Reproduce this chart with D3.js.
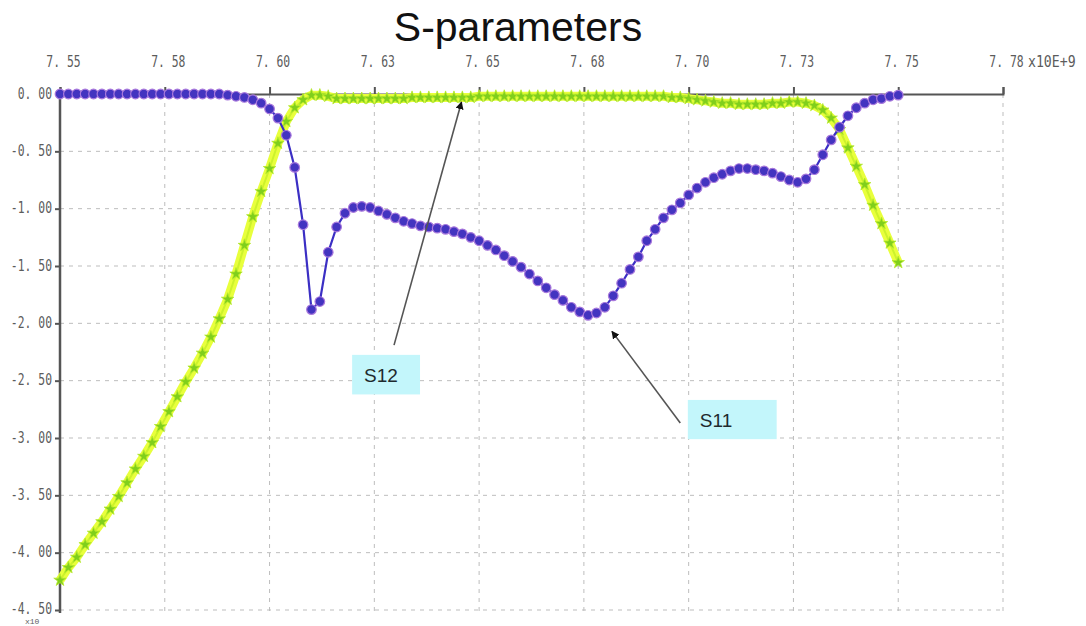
<!DOCTYPE html>
<html>
<head>
<meta charset="utf-8">
<script src="https://cdn.jsdelivr.net/npm/d3@7"></script>
<style>
  html, body { margin: 0; padding: 0; background: #fff; }
  svg { display: block; }
</style>
</head>
<body>
<svg id="chart" width="1086" height="626"></svg>
<script>
// ---- data ----
const title = "S-parameters";
// frequency sweep, GHz (101 points, 7.55 .. 7.75)
const freqs = d3.range(101).map(i => +(7.55 + i * 0.002).toFixed(3));

const s11 = [
  0.00, 0.00, 0.00, 0.00, 0.00, 0.00, 0.00, 0.00, 0.00, 0.00,
  0.00, 0.00, 0.00, 0.00, 0.00, 0.00, 0.00, 0.00, 0.00, 0.00,
  -0.01, -0.02, -0.03, -0.05, -0.08, -0.13, -0.21, -0.36, -0.64, -1.14,
  -1.88, -1.81, -1.38, -1.16, -1.04, -0.99, -0.98, -0.99, -1.02, -1.05,
  -1.08, -1.11, -1.13, -1.15, -1.16, -1.17, -1.18, -1.20, -1.22, -1.25,
  -1.28, -1.32, -1.36, -1.41, -1.46, -1.51, -1.57, -1.63, -1.69, -1.75,
  -1.80, -1.86, -1.90, -1.93, -1.91, -1.86, -1.76, -1.65, -1.53, -1.42,
  -1.28, -1.18, -1.08, -1.01, -0.95, -0.88, -0.82, -0.77, -0.73, -0.70,
  -0.67, -0.65, -0.65, -0.66, -0.67, -0.69, -0.72, -0.75, -0.77, -0.74,
  -0.66, -0.53, -0.40, -0.29, -0.19, -0.12, -0.08, -0.05, -0.04, -0.02,
  -0.01
];

const s12 = [
  -4.24, -4.13, -4.04, -3.93, -3.83, -3.73, -3.62, -3.51, -3.39, -3.27,
  -3.16, -3.04, -2.90, -2.77, -2.64, -2.51, -2.39, -2.26, -2.12, -1.96,
  -1.79, -1.57, -1.32, -1.07, -0.85, -0.65, -0.43, -0.24, -0.12, -0.05,
  -0.01, -0.01, -0.02, -0.04, -0.04, -0.04, -0.04, -0.04, -0.04, -0.04,
  -0.04, -0.04, -0.03, -0.03, -0.03, -0.03, -0.03, -0.03, -0.03, -0.03,
  -0.02, -0.02, -0.02, -0.02, -0.02, -0.02, -0.02, -0.02, -0.02, -0.02,
  -0.02, -0.02, -0.02, -0.02, -0.02, -0.02, -0.02, -0.02, -0.02, -0.02,
  -0.02, -0.02, -0.02, -0.03, -0.03, -0.04, -0.05, -0.06, -0.07, -0.08,
  -0.08, -0.09, -0.09, -0.09, -0.09, -0.08, -0.08, -0.07, -0.07, -0.08,
  -0.10, -0.14, -0.21, -0.31, -0.47, -0.63, -0.79, -0.97, -1.13, -1.30,
  -1.47
];

const xTickValues = [7.55, 7.575, 7.60, 7.625, 7.65, 7.675, 7.70, 7.725, 7.75, 7.775];
const xTickLabels = ["7. 55", "7. 58", "7. 60", "7. 63", "7. 65", "7. 68", "7. 70", "7. 73", "7. 75", "7. 78"];
const xUnit = "x10E+9";
const yTickValues = [0, -0.5, -1.0, -1.5, -2.0, -2.5, -3.0, -3.5, -4.0, -4.5];
const yTickLabels = ["0. 00", "-0. 50", "-1. 00", "-1. 50", "-2. 00", "-2. 50", "-3. 00", "-3. 50", "-4. 00", "-4. 50"];
const yUnit = "x10";

// annotations in data units
const annotations = [
  { label: "S12", box: [7.6197, 7.6359, -2.275, -2.620], from: [7.6297, -2.19], to: [7.6458, -0.07] },
  { label: "S11", box: [7.6998, 7.7210, -2.668, -3.010], from: [7.6980, -2.87], to: [7.6817, -2.07] }
];

// ---- layout ----
const svg = d3.select("#chart");
const x = d3.scaleLinear().domain([7.55, 7.775]).range([60, 1003]);
const y = d3.scaleLinear().domain([0, -4.5]).range([94, 610]);

const tickFont = "'DejaVu Sans Mono', 'Liberation Mono', monospace";
const tickColor = "#5c5c5c";
const sx = 0.76; // horizontal squeeze of the monospaced tick font

// title
svg.append("text")
  .attr("x", 518).attr("y", 41)
  .attr("text-anchor", "middle")
  .attr("font-family", "'Liberation Sans', Arial, sans-serif")
  .attr("font-size", 41)
  .attr("fill", "#111")
  .text(title);

// grid
const grid = svg.append("g").attr("stroke", "#bdbdbd").attr("stroke-width", 1).attr("stroke-dasharray", "4,5");
grid.selectAll("line.v").data(xTickValues.slice(1)).join("line")
  .attr("x1", d => x(d)).attr("x2", d => x(d))
  .attr("y1", y(0)).attr("y2", y(-4.5) + 2);
grid.selectAll("line.h").data(yTickValues.slice(1)).join("line")
  .attr("x1", x(7.55)).attr("x2", x(7.775))
  .attr("y1", d => y(d)).attr("y2", d => y(d));

// axes (top x axis, left y axis)
const xAxis = d3.axisTop(x).tickValues(xTickValues).tickSize(7).tickPadding(20)
  .tickFormat((d, i) => xTickLabels[i]);
const gx = svg.append("g").attr("transform", `translate(0,${y(0)})`).call(xAxis);
gx.select(".domain").attr("stroke", "#555").attr("stroke-width", 2);
gx.selectAll(".tick line").attr("stroke", "#555").attr("stroke-width", 2);
gx.selectAll(".tick text")
  .attr("font-family", tickFont).attr("font-size", 15).attr("fill", tickColor)
  .attr("x", 3 / sx)
  .attr("transform", `scale(${sx},1)`);

svg.append("text")
  .attr("transform", `translate(${x(7.775) + 25},${y(0) - 27}) scale(0.88,1)`)
  .attr("font-family", tickFont).attr("font-size", 15).attr("fill", tickColor)
  .text(xUnit);

const yAxis = d3.axisLeft(y).tickValues(yTickValues).tickSize(5).tickPadding(3)
  .tickFormat((d, i) => yTickLabels[i]);
const gy = svg.append("g").attr("transform", `translate(${x(7.55)},0)`).call(yAxis);
gy.select(".domain").attr("stroke", "#555").attr("stroke-width", 2.5)
  .attr("d", `M0,${y(0)}V${y(-4.5) + 3}`);
gy.selectAll(".tick line").attr("stroke", "#555").attr("stroke-width", 2);
gy.selectAll(".tick text")
  .attr("font-family", tickFont).attr("font-size", 15).attr("fill", tickColor)
  .attr("dy", d => d === -4.5 ? "0.2em" : "0.28em")
  .attr("x", -8 / sx)
  .attr("transform", `scale(${sx},1)`);

svg.append("text")
  .attr("x", 25).attr("y", 623.5)
  .attr("font-family", "'Liberation Mono', monospace").attr("font-size", 8).attr("fill", tickColor)
  .text(yUnit);

// series
const pts12 = freqs.map((f, i) => [f, s12[i]]);
const pts11 = freqs.map((f, i) => [f, s11[i]]);
const line = d3.line().x(d => x(d[0])).y(d => y(d[1]));

// S12: thick yellow-green line with green star markers
svg.append("path").datum(pts12)
  .attr("d", line).attr("fill", "none")
  .attr("stroke", "#e8ff3c").attr("stroke-width", 9).attr("stroke-linejoin", "round");
svg.append("path").datum(pts12)
  .attr("d", line).attr("fill", "none")
  .attr("stroke", "#cdf22c").attr("stroke-width", 2);
svg.append("g").selectAll("path").data(pts12).join("path")
  .attr("transform", d => `translate(${x(d[0])},${y(d[1])})`)
  .attr("d", d3.symbol(d3.symbolStar, 48))
  .attr("fill", "#80cf1c").attr("stroke", "#b8ea2c").attr("stroke-width", 0.8);

// S11: blue line with blue circle markers (pinkish rim)
svg.append("path").datum(pts11)
  .attr("d", line).attr("fill", "none")
  .attr("stroke", "#3b2fc4").attr("stroke-width", 2.2);
svg.append("g").selectAll("circle").data(pts11).join("circle")
  .attr("cx", d => x(d[0])).attr("cy", d => y(d[1])).attr("r", 4.8)
  .attr("fill", "#4334c0").attr("stroke", "#a878dc").attr("stroke-width", 1.2);

// annotations
const defs = svg.append("defs");
defs.append("marker").attr("id", "arrowhead")
  .attr("viewBox", "0 0 10 10").attr("refX", 9).attr("refY", 5)
  .attr("markerWidth", 8).attr("markerHeight", 8).attr("orient", "auto")
  .attr("markerUnits", "userSpaceOnUse")
  .append("path").attr("d", "M0,0L10,5L0,10z").attr("fill", "#111");

const ann = svg.append("g");
annotations.forEach(a => {
  ann.append("line")
    .attr("x1", x(a.from[0])).attr("y1", y(a.from[1]))
    .attr("x2", x(a.to[0])).attr("y2", y(a.to[1]))
    .attr("stroke", "#555").attr("stroke-width", 1.6)
    .attr("marker-end", "url(#arrowhead)");
  const bx0 = x(a.box[0]), bx1 = x(a.box[1]), by0 = y(a.box[2]), by1 = y(a.box[3]);
  ann.append("rect")
    .attr("x", bx0).attr("y", by0).attr("width", bx1 - bx0).attr("height", by1 - by0)
    .attr("fill", "#c3f6fb");
  ann.append("text")
    .attr("x", bx0 + 12).attr("y", (by0 + by1) / 2 + 7)
    .attr("font-family", "'Liberation Sans', Arial, sans-serif")
    .attr("font-size", 19).attr("fill", "#1e2a2e")
    .text(a.label);
});
</script>
</body>
</html>
